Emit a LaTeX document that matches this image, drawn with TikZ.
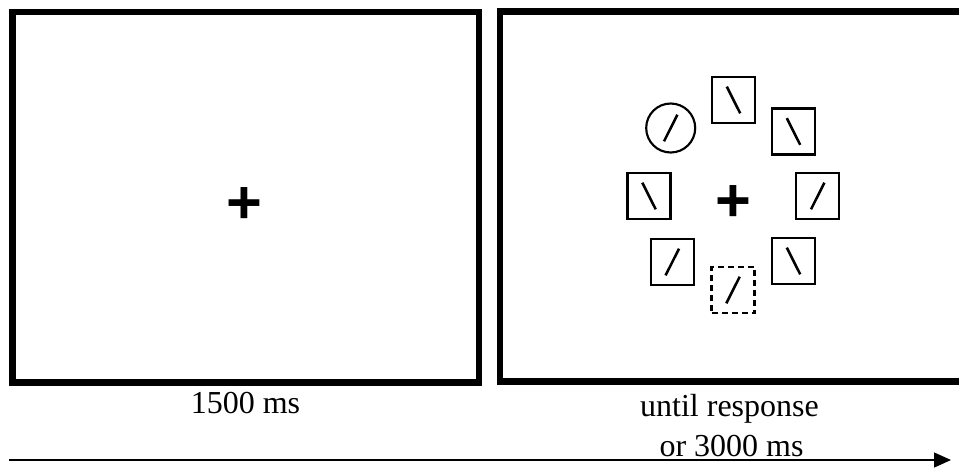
\documentclass[tikz,border=0pt]{standalone}
\usepackage{fontspec}
\setmainfont{Liberation Serif}
\newfontfamily\crossfont{Liberation Sans}
\usetikzlibrary{arrows.meta}
\tikzset{
	frame/.style={draw, line width=4.9pt},
	stim/.style={draw, line width=1.6pt, minimum width=32.25pt, minimum height=34.5pt, inner sep=0pt},
	ring/.style={draw, circle, line width=1.6pt, minimum size=36.75pt, inner sep=0pt},
	bar/.style={line width=1.9pt},
	fixcross/.style={inner sep=0pt, anchor=base, font=\crossfont\bfseries\fontsize{46}{46}\selectfont},
	lbl/.style={inner sep=0pt, anchor=base, font=\fontsize{24}{29}\selectfont},
	timeline/.style={line width=1pt, -{Triangle[length=12.75pt, width=11.25pt]}}
}
\begin{document}
\begin{tikzpicture}[x=0.75pt, y=-0.75pt]
	\useasboundingbox (0,0) rectangle (959,469);
	\draw[frame] (12.5,12) rectangle (479,382.5);
	\draw[frame] (500,11.3) rectangle (968,381.5);
	\node[fixcross] (cross1) at (244.5,223) {+};
	\node[fixcross] (cross2) at (733,221.5) {+};
	\foreach \n/\x/\y/\d in {top/733.5/100/1, topright/793.5/131.5/1, right/817.7/196/-1, botright/793.5/261/1, botleft/672.3/262/-1, left/649/196/1}
	{
		\node[stim] (\n) at (\x,\y) {};
		\draw[bar] (\n) ++(-6.7*\d,-13.3) -- ++(13.4*\d,26.6);
	}
	\node[ring] (target) at (670.7,128) {};
	\draw[bar] (target) ++(6.7,-13.3) -- ++(-13.4,26.6);
	\node[stim, dashed, dash pattern=on 4.5pt off 3pt] (probe) at (733,290) {};
	\draw[bar] (probe) ++(6.7,-13.3) -- ++(-13.4,26.6);
	\node[lbl] (dur1) at (245.5,413.3) {1500 ms};
	\node[lbl] (dur2) at (729.5,416.7) {until response};
	\node[lbl] (dur3) at (731.5,456) {or 3000 ms};
	\coordinate (tstart) at (9,460);
	\coordinate (tend) at (951,460);
	\draw[timeline] (tstart) -- (tend);
\end{tikzpicture}
\end{document}
